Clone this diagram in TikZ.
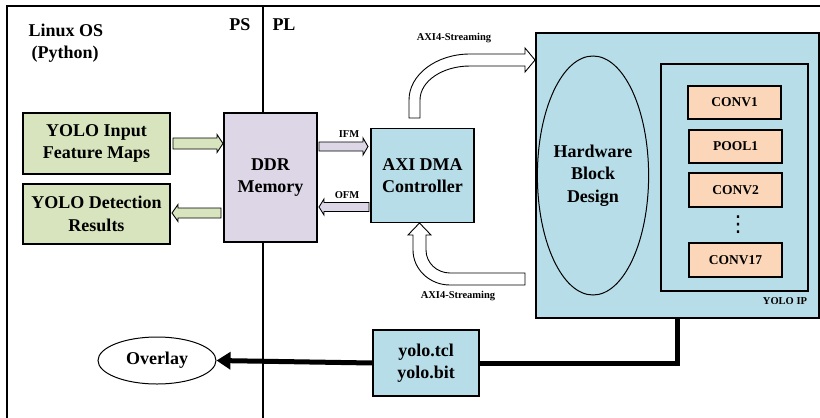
\documentclass[tikz,border=0pt]{standalone}
\usepackage{fontspec}
\setmainfont{Liberation Serif}
\newfontfamily\symbolfont{DejaVu Sans}
\usetikzlibrary{arrows.meta,shapes.geometric}

\definecolor{boxgreen}{HTML}{D7E4BD}
\definecolor{boxlilac}{HTML}{DCD6E6}
\definecolor{boxblue}{HTML}{B7DDE8}
\definecolor{boxpeach}{HTML}{FBD6B8}

\tikzset{
  big/.style={font=\bfseries\fontsize{18}{22.5}\selectfont},
  mid/.style={font=\bfseries\fontsize{13.5}{16}\selectfont},
  small/.style={font=\bfseries\fontsize{10.5}{12}\selectfont},
  box/.style={draw=black, line width=1.3pt, inner sep=0pt, align=center, big},
  layer/.style={draw=black, line width=1.3pt, fill=boxpeach, minimum width=93, minimum height=33, inner sep=0pt, mid},
  frameline/.style={line width=1.2pt},
  blockarrow/.style={draw=black, line width=0.9pt, line join=miter},
}

\begin{document}
\begin{tikzpicture}[x=1pt, y=-1pt]
\useasboundingbox (0,0) rectangle (820,418);

% outer frame and PS/PL divider
\draw[frameline] (820,6) -- (7,6) -- (7,418);
\draw[frameline] (263,6) -- (263,418);

\node[big, anchor=west] (linux) at (25,30) {Linux OS};
\node[big, anchor=west] (python) at (28,54) {(Python)};
\node[big] (ps) at (240,25) {PS};
\node[big] (pl) at (284,25) {PL};

% processing-system side
\node[box, fill=boxgreen, minimum width=147, minimum height=61] (inp) at (96.5,143.5) {YOLO Input\\Feature Maps};
\node[box, fill=boxgreen, minimum width=147, minimum height=60] (det) at (96.5,214) {YOLO Detection\\Results};
\node[box, fill=boxlilac, minimum width=93, minimum height=129] (ddr) at (270.5,177.5) {DDR\\Memory};

% programmable-logic side
\node[box, fill=boxblue, minimum width=103, minimum height=94] (dma) at (422.5,175.5) {AXI DMA\\Controller};
\node[box, fill=boxblue, minimum width=283, minimum height=285] (ip) at (677.5,175.5) {};
\node[box, fill=boxblue, minimum width=147, minimum height=227] (inner) at (734.5,177.5) {};
\node[ellipse, draw=black, line width=1pt, minimum width=102, minimum height=239, inner sep=0pt, align=center, big] (hbd) at (593,175.5) {Hardware\\Block\\Design};
\node[layer] (conv1) at (734.5,102.5) {CONV1};
\node[layer] (pool1) at (735.5,146.5) {POOL1};
\node[layer, minimum height=34] (conv2) at (735.5,190) {CONV2};
\node[inner sep=0pt, font=\symbolfont\fontsize{22}{22}\selectfont] (vdots) at (738,225) {⋮};
\node[layer, minimum height=34] (conv17) at (735.5,260) {CONV17};
\node[small] (iplabel) at (785,301) {YOLO IP};

\node[box, fill=boxblue, minimum width=106, minimum height=66] (bit) at (426,363) {yolo.tcl\\yolo.bit};
\node[ellipse, draw=black, line width=1pt, minimum width=118, minimum height=47, inner sep=0pt, big] (overlay) at (157,360.5) {Overlay};

% block arrows between memory and the boxes around it
\draw[blockarrow, fill=boxgreen] (173,138) -- (217,138) -- (217,134.5) -- (223,143.5) -- (217,152.5) -- (217,149) -- (173,149) -- cycle;
\draw[blockarrow, fill=boxgreen] (221,208) -- (178,208) -- (178,204.5) -- (172,213) -- (178,221.5) -- (178,218) -- (221,218) -- cycle;
\draw[blockarrow, fill=boxlilac] (319,142) -- (363,142) -- (363,138) -- (368,146.5) -- (363,155) -- (363,151) -- (319,151) -- cycle;
\draw[blockarrow, fill=boxlilac] (369,202.5) -- (324,202.5) -- (324,199) -- (319,207) -- (324,215) -- (324,211.5) -- (369,211.5) -- cycle;
\node[small] (ifm) at (349,134) {IFM};
\node[small] (ofm) at (347,195) {OFM};

% AXI4-Streaming: DMA to YOLO IP
\draw[blockarrow, fill=white] (409,118) -- (409,100) .. controls (409,74.6) and (436.3,54) .. (470,54) -- (525,54) -- (525,48) -- (535,60) -- (525,72) -- (525,66) -- (470,66) .. controls (442.4,66) and (420,81.2) .. (420,100) -- (420,118) -- cycle;
\node[small] (axitop) at (454,38) {AXI4-Streaming};

% AXI4-Streaming: YOLO IP back to DMA
\draw[blockarrow, fill=white] (419.5,223) -- (431,235) -- (426,235) -- (426,250) .. controls (426,262.7) and (436.7,273) .. (450,273) -- (525,273) -- (525,285) -- (450,285) .. controls (429.6,285) and (413,269.3) .. (413,250) -- (413,235) -- (408,235) -- cycle;
\node[small] (axibot) at (458,296) {AXI4-Streaming};

% bitstream export and overlay loading
\coordinate (ipout) at (677.5,318);
\draw[line width=5pt] (ipout) |- (bit.east);
\draw[line width=5pt, -{Triangle[length=14pt,width=17pt]}] (bit.west) -- (overlay.east);
\end{tikzpicture}
\end{document}
